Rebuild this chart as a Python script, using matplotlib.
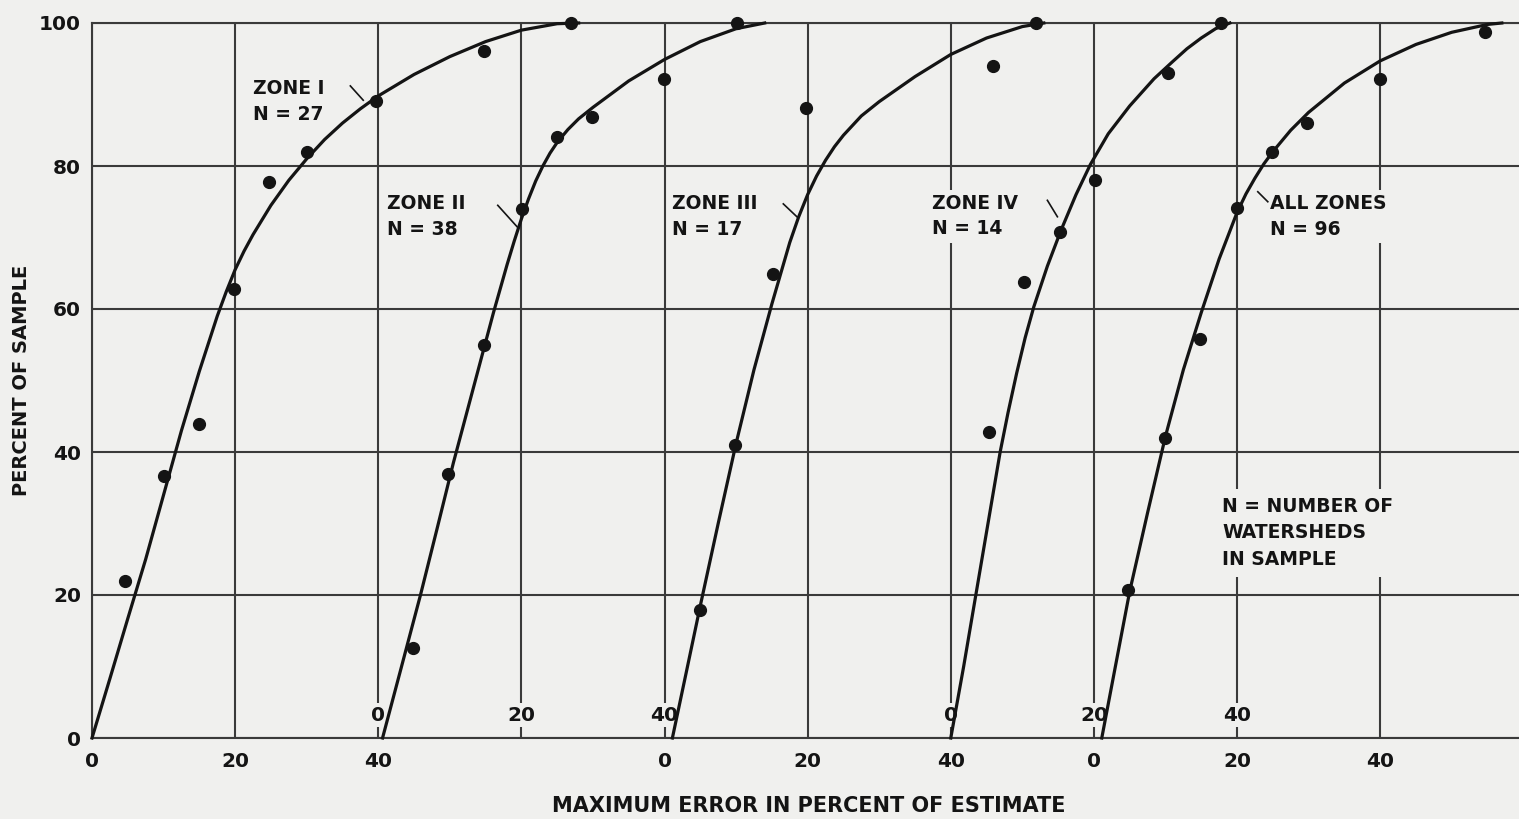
import matplotlib.pyplot as plt

# each zone has its own 0 on the shared x axis
zone_names = ['ZONE I', 'ZONE II', 'ZONE III', 'ZONE IV', 'ALL ZONES']
zone_n = [27, 38, 17, 14, 96]
zone_origin = [0, 40, 80, 120, 140]

# plotted points, x read in each zone's own scale
pts_x = [
    [4.6, 10, 14.9, 19.8, 24.8, 30, 39.7, 54.8, 66.9],
    [4.9, 9.8, 14.8, 20.1, 25, 29.9, 39.9, 50.1],
    [5, 9.9, 15.1, 19.8, 45.9, 51.9],
    [5.3, 10.2, 15.2, 20.1, 30.3, 37.8],
    [4.8, 9.9, 14.8, 20, 24.9, 29.8, 40, 54.7],
]
pts_y = [
    [21.9, 36.7, 43.9, 62.8, 77.8, 82.0, 89.1, 96.1, 100],
    [12.6, 36.9, 55.0, 74.0, 84.0, 86.9, 92.1, 100],
    [17.9, 41.0, 64.9, 88.1, 94.0, 100],
    [42.8, 63.8, 70.8, 78.0, 93.0, 100],
    [20.7, 42.0, 55.8, 74.1, 82.0, 86.0, 92.1, 98.8],
]

# fitted curves
curve_x = [
    [0, 2.5, 5, 7.5, 10, 12.5, 15, 17.5, 18.75, 20, 21.25, 22.5, 25, 27.5, 30, 32.5, 35,
     37.5, 40, 45, 50, 55, 60, 65, 68],
    [0.6, 3.2, 5.9, 8.2, 10.5, 13.3, 16.1, 18, 19, 20, 21, 22, 23, 24, 25, 26.5, 28, 30,
     35, 40, 45, 50, 54],
    [1.1, 3, 5, 7.5, 10, 12.5, 15, 17.5, 18.75, 20, 21.25, 22.5, 23.75, 25, 27.5, 30, 35,
     40, 45, 50, 53],
    [0, 1.8, 3.5, 5.2, 6.9, 8, 9.2, 10.4, 11.6, 13.5, 15.4, 17.5, 19.5, 22, 25, 28.4, 31,
     33, 35, 37, 39],
    [1.1, 3, 5, 7.5, 10, 12.5, 15, 17.5, 20, 21.25, 22.5, 23.75, 25, 27.5, 30, 35, 40, 45,
     50, 55, 57],
]
curve_y = [
    [0, 8.3, 16.7, 25, 34, 43, 51.3, 59, 62.4, 65.5, 68.1, 70.4, 74.5, 78, 81, 83.7, 86,
     88, 89.8, 92.8, 95.3, 97.4, 99, 99.9, 100],
    [0, 9.8, 20, 29.2, 38.5, 49, 59.5, 66.2, 69.5, 72.6, 75.4, 77.9, 80, 81.8, 83.3, 85.1,
     86.6, 88.2, 91.9, 94.9, 97.4, 99.2, 100],
    [0, 9, 18.5, 30, 41.2, 51.5, 60.7, 69.3, 72.9, 76, 78.6, 80.8, 82.7, 84.3, 87, 89,
     92.5, 95.6, 97.9, 99.5, 100],
    [0, 10, 20, 30, 40, 45.5, 51, 56, 60.3, 66, 71, 76, 80.2, 84.5, 88.4, 92.2, 94.6,
     96.4, 97.9, 99.2, 100],
    [0, 10, 20.5, 31.5, 42.2, 51.5, 59.5, 67, 73.5, 76.1, 78.3, 80.3, 82, 85, 87.5, 91.6,
     94.7, 97, 98.7, 99.8, 100],
]

# scales printed under the axis and just above it
bottom_origins = [0, 80, 140]
inner_origins = [40, 120]
scale_values = [0, 20, 40]

note = 'N = NUMBER OF\nWATERSHEDS\nIN SAMPLE'

paper = '#f0f0ee'
ink = '#141414'
plt.rcParams['font.family'] = ['DejaVu Sans']
plt.rcParams['font.weight'] = 'bold'

fig = plt.figure(figsize=(15.19, 8.19), dpi=100, facecolor=paper)
ax = fig.add_axes([92 / 1519, 1 - 738 / 819, 1 - 92 / 1519, (738 - 23) / 819])
ax.set_facecolor(paper)
ax.set_xlim(0, 199.4)
ax.set_ylim(0, 100)

ax.set_axisbelow(True)
ax.set_xticks(range(0, 200, 20))
ax.set_yticks(range(0, 101, 20))
ax.grid(True, color='#3a3a3a', lw=1.5)
for s in ['left', 'top', 'bottom']:
    ax.spines[s].set_color('#3a3a3a')
    ax.spines[s].set_linewidth(1.5)
ax.spines['right'].set_visible(False)

xlabels = {}
for o in bottom_origins:
    for v in scale_values:
        xlabels[o + v] = str(v)
ax.set_xticklabels([xlabels.get(t, '') for t in range(0, 200, 20)])
ax.tick_params(length=0, labelsize=14.5, colors=ink)
ax.tick_params(axis='x', pad=10)
ax.tick_params(axis='y', pad=8)

for o in inner_origins:
    for v in scale_values:
        ax.text(o + v, 3.2, str(v), ha='center', va='center', fontsize=14.5, color=ink,
                zorder=2, bbox=dict(fc=paper, ec='none', pad=2))

for i in range(len(zone_names)):
    o = zone_origin[i]
    ax.plot([o + x for x in curve_x[i]], curve_y[i], color=ink, lw=2.3,
            solid_joinstyle='round', zorder=3, clip_on=False)
    ax.plot([o + x for x in pts_x[i]], pts_y[i], 'o', color=ink, ms=8.5,
            zorder=4, clip_on=False)

label_xy = [(22.5, 89.0), (41.2, 72.9), (81.0, 72.9), (117.4, 73.0), (164.6, 72.9)]
leaders = [((36.1, 91.2), (37.9, 89.2)), ((56.7, 74.5), (59.4, 71.5)),
           ((96.6, 74.7), (98.5, 72.9)), ((133.5, 75.2), (134.9, 72.9)),
           ((164.3, 75.0), (162.9, 76.4))]
for i in range(len(zone_names)):
    ax.text(label_xy[i][0], label_xy[i][1], '%s\nN = %d' % (zone_names[i], zone_n[i]),
            ha='left', va='center', fontsize=13.5, color=ink, linespacing=1.45,
            zorder=2, bbox=dict(fc=paper, ec='none', pad=3))
    (x0, y0), (x1, y1) = leaders[i]
    ax.plot([x0, x1], [y0, y1], color=ink, lw=1.2, zorder=3)

ax.text(157.9, 28.7, note, ha='left', va='center', fontsize=13.5, color=ink,
        linespacing=1.5, zorder=2, bbox=dict(fc=paper, ec='none', pad=6))

fig.text(22 / 1519, 1 - 380 / 819, 'PERCENT OF SAMPLE', rotation=90, ha='center',
         va='center', fontsize=14, color=ink)
fig.text(809 / 1519, 1 - 806 / 819, 'MAXIMUM ERROR IN PERCENT OF ESTIMATE', ha='center',
         va='center', fontsize=15, color=ink)

fig.savefig('out.png', dpi=100, facecolor=paper)
